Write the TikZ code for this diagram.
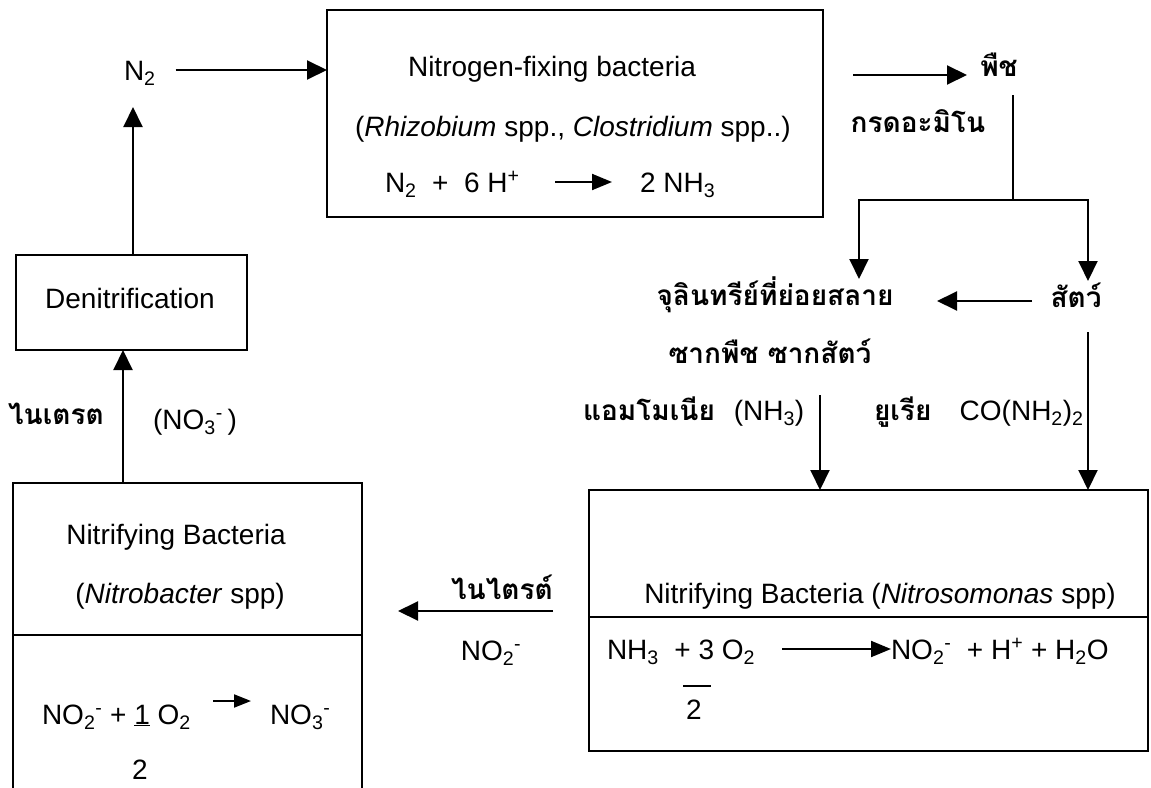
\documentclass[tikz,border=0pt]{standalone}
\usepackage{fontspec}
\setmainfont{Liberation Sans}
\newfontfamily\thai[Script=Thai]{Loma}
\usetikzlibrary{arrows.meta}
\begin{document}
\begin{tikzpicture}[x=1pt,y=-1pt,
  txt/.style={inner sep=0pt, outer sep=0pt, font=\fontsize{28}{34}\selectfont, text height=20pt, text depth=0pt},
  th/.style={inner sep=0pt, outer sep=0pt, font=\fontsize{28}{34}\selectfont\thai\bfseries, text height=13pt, text depth=0pt},
  box/.style={draw, line width=2.4pt, inner sep=0pt, outer sep=0pt},
  divline/.style={line width=2.4pt},
  arr/.style={line width=2pt, -{Triangle[length=20pt,width=19pt]}},
  eqarr/.style={line width=2pt, -{Triangle[length=20pt,width=16pt]}},
  smallarr/.style={line width=2pt, -{Triangle[length=17pt,width=13pt]}},
  ln/.style={line width=2pt},
]
\useasboundingbox (0,0) rectangle (1151,787);

% ---- top: N2 and nitrogen-fixing box
\node[txt, anchor=west] (n2) at (124,70) {N\textsubscript{2}};
\node[box, anchor=north west, minimum width=496pt, minimum height=207pt] (fix) at (327,10) {};
\node[txt] (fixT) at (552,66) {Nitrogen-fixing bacteria};
\node[txt, anchor=west] (fixS) at (355,126) {(\textit{Rhizobium} spp., \textit{Clostridium} spp..)};
\node[txt, anchor=west] (eq1L) at (385,182) {N\textsubscript{2}\ \ +\ \ 6 H\textsuperscript{+}};
\node[txt, anchor=west] (eq1R) at (640,182) {2 NH\textsubscript{3}};
\coordinate (e1a) at (555,182);
\coordinate (e1b) at (612,182);
\draw[eqarr] (e1a) -- (e1b);
\draw[arr, shorten <=20pt] (n2.east) -- (n2.east -| fix.west);

% ---- plants
\node[th] (phuet) at (999,70) {พืช};
\node[th] (amino) at (918,126) {กรดอะมิโน};
\coordinate (p1) at (853,75);
\coordinate (p2) at (967,75);
\draw[arr] (p1) -- (p2);
\coordinate (ps) at (1013,95);
\coordinate (split) at (1013,200);
\coordinate (sl) at (859,200);
\coordinate (sr) at (1088,200);
\coordinate (tl) at (859,279);
\coordinate (tr) at (1088,281);
\draw[ln] (ps) -- (split);
\draw[arr] (split) -- (sl) -- (tl);
\draw[arr] (split) -- (sr) -- (tr);

% ---- decomposers / animals
\node[th] (micro) at (775,299) {จุลินทรีย์ที่ย่อยสลาย};
\node[th] (animal) at (1076,301) {สัตว์};
\node[th] (carcass) at (770,357) {ซากพืช ซากสัตว์};
\coordinate (an1) at (1032,301);
\coordinate (an2) at (937,301);
\draw[arr] (an1) -- (an2);
\node[th, anchor=west] (ammonia) at (583,414) {แอมโมเนีย\ \ {\normalfont (NH\textsubscript{3})}};
\node[th, anchor=west] (urea) at (874,414) {ยูเรีย\ \ \ {\normalfont CO(NH\textsubscript{2})\textsubscript{2}}};

% ---- Nitrosomonas box
\node[box, anchor=north west, minimum width=559pt, minimum height=261pt] (ns) at (589,490) {};
\coordinate (nsd) at (589,617);
\draw[divline] (nsd) -- (nsd -| ns.east);
\node[txt] (nsT) at (880,593) {Nitrifying Bacteria (\textit{Nitrosomonas} spp)};
\node[txt, anchor=west] (eq4L) at (607,649) {NH\textsubscript{3}\ \ + 3 O\textsubscript{2}};
\node[txt, anchor=west] (eq4R) at (891,649) {NO\textsubscript{2}\textsuperscript{-}\ \ + H\textsuperscript{+} + H\textsubscript{2}O};
\coordinate (e4a) at (782,649);
\coordinate (e4b) at (891,649);
\draw[eqarr] (e4a) -- (e4b);
\node[txt] (nsTwo) at (694,709) {2};
\coordinate (bar1) at (683,686);
\coordinate (bar2) at (711,686);
\draw[ln] (bar1) -- (bar2);
\coordinate (am1) at (820,395);
\coordinate (ur1) at (1088,332);
\draw[arr] (am1) -- (am1 |- ns.north);
\draw[arr] (ur1) -- (ur1 |- ns.north);

% ---- nitrite arrow
\node[th] (nitrite) at (502,593) {ไนไตรต์};
\node[txt] (no2) at (491,650) {NO\textsubscript{2}\textsuperscript{-}};
\coordinate (ni1) at (553,611);
\coordinate (ni2) at (398,611);
\draw[arr] (ni1) -- (ni2);

% ---- Nitrobacter box
\node[box, anchor=north west, minimum width=349pt, minimum height=330pt] (nb) at (13,483) {};
\coordinate (nbd) at (13,635);
\draw[divline] (nbd) -- (nbd -| nb.east);
\node[txt] (nbT) at (176,534) {Nitrifying Bacteria};
\node[txt] (nbS) at (180,593) {(\textit{Nitrobacter} spp)};
\node[txt, anchor=west] (eq3L) at (42,714) {NO\textsubscript{2}\textsuperscript{-} + \underline{1} O\textsubscript{2}};
\node[txt, anchor=west] (eq3R) at (270,714) {NO\textsubscript{3}\textsuperscript{-}};
\coordinate (e3a) at (213,701);
\coordinate (e3b) at (251,701);
\draw[smallarr] (e3a) -- (e3b);
\node[txt] (nbTwo) at (140,769) {2};

% ---- denitrification
\node[box, anchor=north west, minimum width=231pt, minimum height=95pt] (den) at (16,255) {};
\node[txt] (denT) at (130,298) {Denitrification};
\node[th] (nitrate) at (56,418) {ไนเตรต};
\node[txt] (no3) at (195,419) {(NO\textsubscript{3}\textsuperscript{-}\,)};
\coordinate (d1) at (123,483);
\draw[arr] (d1) -- (d1 |- den.south);
\coordinate (d2) at (133,255);
\coordinate (d3) at (133,107);
\draw[arr] (d2) -- (d3);
\end{tikzpicture}
\end{document}
